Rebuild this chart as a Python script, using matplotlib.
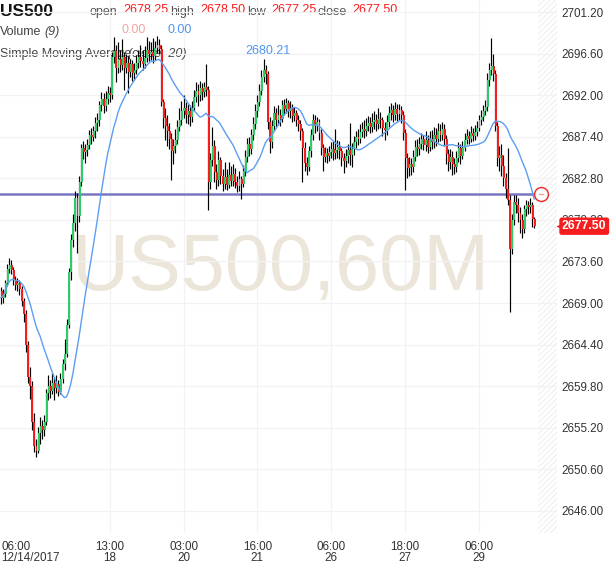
import numpy as np
import pandas as pd
import matplotlib
matplotlib.use("Agg")
import matplotlib.pyplot as plt
import matplotlib.transforms as mtransforms

plt.rcParams['font.family'] = ['Liberation Sans', 'DejaVu Sans']
plt.rcParams['hatch.linewidth'] = 0.8

# hourly US500 closes, one per bar (first bar opens at 2670.3)
first_open = 2670.3
closes = [
    2669.6, 2670.0, 2671.2, 2672.8, 2673.2, 2672.7, 2671.6, 2671.0, 2671.2, 2670.5,
    2669.2, 2667.8, 2664.3, 2660.8, 2659.8, 2655.8, 2653.2, 2652.6, 2654.6, 2655.4,
    2654.9, 2655.8, 2659.0, 2659.8, 2659.3, 2660.2, 2659.6, 2660.0, 2659.2, 2660.6,
    2662.2, 2663.4, 2666.6, 2672.4, 2676.0, 2677.8, 2680.6, 2678.6, 2682.4, 2686.2,
    2685.7, 2685.9, 2686.5, 2687.6, 2687.4, 2688.0, 2688.9, 2689.2, 2690.9, 2691.6,
    2690.8, 2691.6, 2692.2, 2692.0, 2696.2, 2696.9, 2695.0, 2696.0, 2695.3, 2696.2,
    2695.0, 2695.6, 2694.6, 2695.4, 2694.4, 2694.8, 2695.6, 2696.2, 2695.8, 2695.5,
    2696.1, 2697.0, 2696.5, 2696.8, 2696.3, 2697.2, 2697.6, 2697.1, 2691.2, 2689.5,
    2688.6, 2688.0, 2687.2, 2685.8, 2686.4, 2687.0, 2688.5, 2689.2, 2690.2, 2690.6,
    2689.8, 2690.3, 2689.6, 2690.6, 2691.8, 2692.5, 2692.0, 2692.8, 2692.3, 2692.9,
    2692.6, 2682.4, 2684.8, 2686.4, 2683.5, 2682.6, 2684.8, 2683.0, 2682.2, 2682.9,
    2682.1, 2683.2, 2682.5, 2683.3, 2682.4, 2681.9, 2682.7, 2682.2, 2683.6, 2685.2,
    2686.6, 2686.0, 2687.6, 2688.8, 2690.2, 2691.2, 2692.5, 2694.0, 2694.8, 2694.3,
    2689.0, 2686.8, 2688.6, 2690.0, 2689.3, 2689.8, 2689.4, 2690.9, 2690.5, 2691.1,
    2690.2, 2690.6, 2689.7, 2690.0, 2689.3, 2688.8, 2688.0, 2686.2, 2684.5, 2684.0,
    2685.8, 2687.6, 2689.2, 2688.6, 2689.0, 2687.8, 2686.2, 2685.2, 2685.6, 2685.3,
    2685.7, 2686.0, 2685.6, 2685.9, 2686.3, 2685.8, 2685.1, 2684.7, 2685.3, 2685.9,
    2685.4, 2686.0, 2686.8, 2687.4, 2687.2, 2687.9, 2688.3, 2688.0, 2688.6, 2688.9,
    2688.5, 2689.0, 2689.3, 2688.8, 2689.4, 2689.2, 2688.4, 2688.1, 2689.0, 2690.0,
    2690.4, 2689.8, 2690.5, 2689.9, 2690.4, 2689.8, 2687.8, 2685.0, 2683.9, 2684.4,
    2684.0, 2685.2, 2686.3, 2686.0, 2686.6, 2687.1, 2686.5, 2687.0, 2686.3, 2687.2,
    2686.8, 2687.6, 2687.2, 2688.0, 2687.6, 2688.2, 2687.2, 2685.5, 2684.6, 2685.2,
    2684.4, 2684.0, 2685.0, 2686.1, 2685.3, 2686.2, 2687.0, 2687.5, 2687.2, 2687.8,
    2687.5, 2687.9, 2688.4, 2689.2, 2689.6, 2690.2, 2690.7, 2693.7, 2694.8, 2695.2,
    2694.3, 2688.6, 2685.0, 2685.4, 2684.2, 2682.8, 2681.6, 2680.4, 2675.0, 2678.2,
    2680.2, 2679.9, 2679.0, 2678.2, 2677.2, 2679.4, 2679.8, 2679.6, 2679.9, 2678.25,
    2677.5,
]
highs = [
    2670.8, 2670.6, 2671.6, 2673.3, 2674.0, 2673.8, 2673.0, 2672.0, 2671.8, 2671.6,
    2670.9, 2669.5, 2668.2, 2664.8, 2661.9, 2660.4, 2656.8, 2654.0, 2655.3, 2656.4,
    2656.0, 2656.6, 2659.5, 2661.0, 2660.5, 2661.2, 2660.8, 2661.0, 2660.5, 2661.2,
    2662.8, 2665.0, 2667.2, 2672.9, 2676.6, 2678.9, 2681.4, 2681.2, 2683.0, 2686.6,
    2686.9, 2686.6, 2687.2, 2688.1, 2688.4, 2688.6, 2689.6, 2690.0, 2691.4, 2692.4,
    2692.2, 2692.5, 2693.0, 2692.9, 2696.8, 2698.4, 2697.6, 2697.9, 2697.0, 2698.2,
    2696.8, 2696.5, 2696.3, 2696.0, 2695.9, 2695.6, 2696.4, 2697.0, 2697.6, 2697.0,
    2697.4, 2698.4, 2698.0, 2697.9, 2698.3, 2698.0, 2698.6, 2698.2, 2697.6, 2691.6,
    2690.6, 2689.8, 2688.9, 2687.8, 2687.2, 2688.2, 2689.2, 2690.6, 2691.3, 2692.0,
    2691.2, 2691.0, 2690.9, 2691.4, 2692.6, 2693.5, 2693.2, 2693.6, 2693.4, 2693.5,
    2695.5, 2693.0, 2685.6, 2688.5, 2687.0, 2684.4, 2685.8, 2685.2, 2683.8, 2684.6,
    2683.8, 2684.6, 2684.2, 2684.4, 2683.9, 2683.0, 2683.6, 2683.1, 2684.3, 2685.9,
    2687.3, 2687.4, 2688.3, 2689.6, 2691.0, 2692.0, 2693.2, 2694.8, 2696.0, 2695.3,
    2694.7, 2689.6, 2689.3, 2690.8, 2690.6, 2690.9, 2690.5, 2691.5, 2691.6, 2691.7,
    2691.5, 2691.3, 2691.0, 2690.7, 2690.4, 2689.8, 2689.3, 2688.4, 2686.8, 2685.2,
    2686.4, 2688.2, 2689.9, 2689.8, 2689.6, 2689.4, 2688.2, 2686.6, 2686.3, 2686.2,
    2686.4, 2686.8, 2686.9, 2688.2, 2687.0, 2686.9, 2686.2, 2685.6, 2686.0, 2686.6,
    2688.9, 2686.7, 2687.5, 2688.0, 2688.2, 2688.8, 2689.0, 2689.2, 2689.5, 2689.7,
    2689.6, 2690.0, 2690.2, 2689.9, 2690.6, 2690.1, 2689.6, 2689.0, 2689.8, 2690.8,
    2691.1, 2690.9, 2691.2, 2691.0, 2691.0, 2690.8, 2690.2, 2688.2, 2685.6, 2685.2,
    2685.0, 2685.9, 2687.0, 2687.2, 2687.4, 2687.8, 2687.6, 2688.0, 2687.6, 2688.0,
    2688.1, 2688.5, 2688.4, 2688.9, 2688.8, 2689.0, 2688.8, 2687.6, 2686.0, 2686.0,
    2685.8, 2685.0, 2685.8, 2686.8, 2686.6, 2686.9, 2687.8, 2688.2, 2688.0, 2688.6,
    2688.4, 2688.7, 2689.1, 2689.8, 2690.4, 2690.9, 2691.5, 2694.4, 2695.6, 2698.3,
    2696.6, 2694.8, 2689.0, 2686.4, 2686.6, 2685.4, 2683.4, 2686.2, 2681.0, 2678.8,
    2680.9, 2681.0, 2680.6, 2679.6, 2678.8, 2679.9, 2680.4, 2680.3, 2680.6, 2680.2,
    2678.5,
]
lows = [
    2668.9, 2669.0, 2669.7, 2670.9, 2672.3, 2672.2, 2671.0, 2670.4, 2670.3, 2669.9,
    2668.7, 2666.9, 2663.6, 2660.1, 2658.4, 2655.0, 2652.5, 2652.0, 2652.4, 2653.4,
    2654.0, 2654.3, 2655.5, 2658.3, 2658.5, 2658.9, 2658.3, 2659.0, 2658.7, 2658.9,
    2660.2, 2661.6, 2663.0, 2666.2, 2671.5, 2675.2, 2677.0, 2674.5, 2678.0, 2682.0,
    2684.9, 2684.5, 2685.3, 2686.0, 2686.6, 2686.9, 2687.3, 2688.0, 2688.6, 2690.2,
    2690.0, 2690.3, 2691.0, 2691.2, 2691.6, 2695.6, 2693.5, 2694.5, 2694.6, 2694.8,
    2692.6, 2694.4, 2692.2, 2694.0, 2693.6, 2693.8, 2694.3, 2695.0, 2695.1, 2694.8,
    2695.0, 2695.7, 2695.8, 2695.9, 2695.6, 2695.9, 2696.7, 2696.5, 2690.8, 2688.4,
    2687.0, 2686.4, 2686.0, 2682.6, 2684.4, 2685.6, 2686.6, 2688.0, 2688.7, 2689.5,
    2688.9, 2688.8, 2688.6, 2689.0, 2690.2, 2691.2, 2690.8, 2691.4, 2691.5, 2691.8,
    2691.9, 2679.3, 2681.6, 2684.2, 2682.4, 2681.6, 2682.0, 2682.2, 2681.4, 2681.6,
    2681.5, 2681.7, 2681.9, 2682.0, 2681.7, 2681.3, 2681.4, 2680.5, 2681.8, 2683.0,
    2684.6, 2685.3, 2685.5, 2687.0, 2688.2, 2689.6, 2690.8, 2692.0, 2693.5, 2693.2,
    2688.3, 2685.6, 2686.2, 2688.0, 2688.5, 2688.7, 2688.6, 2689.0, 2689.8, 2690.0,
    2689.6, 2689.5, 2689.0, 2689.1, 2688.6, 2688.0, 2687.0, 2682.4, 2683.6, 2683.2,
    2683.6, 2685.2, 2687.0, 2687.8, 2688.0, 2687.0, 2685.4, 2683.6, 2684.6, 2684.5,
    2684.7, 2685.0, 2684.8, 2684.9, 2685.1, 2684.9, 2684.2, 2683.4, 2684.0, 2684.5,
    2684.3, 2684.1, 2685.4, 2686.2, 2686.5, 2686.7, 2687.4, 2687.3, 2687.5, 2688.0,
    2687.8, 2687.9, 2688.3, 2688.0, 2688.2, 2688.4, 2687.5, 2687.0, 2687.6, 2688.5,
    2689.3, 2689.0, 2689.2, 2689.1, 2689.3, 2688.9, 2687.0, 2681.5, 2682.8, 2683.0,
    2683.2, 2683.5, 2684.7, 2685.3, 2685.4, 2686.0, 2685.9, 2685.8, 2685.6, 2685.8,
    2686.0, 2686.2, 2686.4, 2686.8, 2686.9, 2687.0, 2686.4, 2684.4, 2683.6, 2683.8,
    2683.2, 2683.3, 2683.5, 2684.6, 2684.4, 2684.9, 2685.8, 2686.6, 2686.6, 2686.8,
    2686.9, 2687.0, 2687.5, 2688.0, 2688.7, 2689.1, 2689.8, 2690.3, 2693.0, 2694.2,
    2693.6, 2688.0, 2684.2, 2683.6, 2683.0, 2682.0, 2680.6, 2679.8, 2668.0, 2674.4,
    2677.6, 2679.0, 2678.0, 2676.8, 2676.2, 2676.8, 2678.6, 2678.8, 2679.0, 2677.4,
    2677.25,
]

alert_level = 2681.07
y_ticks = [2646.0, 2650.6, 2655.2, 2659.8, 2664.4, 2669.0, 2673.6, 2678.2,
           2682.8, 2687.4, 2692.0, 2696.6, 2701.2]
x_tick_bars = [0, 53, 89, 125, 161, 197, 233]
x_tick_labels = ["06:00\n12/14/2017", "13:00\n18", "03:00\n20", "16:00\n21",
                 "06:00\n26", "18:00\n27", "06:00\n29"]

GREEN = '#2dcc66'
RED = '#f51d1d'
TXT = '#333333'

closes = np.array(closes)
highs = np.array(highs)
lows = np.array(lows)
opens = np.r_[first_open, closes[:-1]]
idx = np.arange(len(closes))
sma = pd.Series(closes).rolling(20, min_periods=1).mean()

fig = plt.figure(figsize=(6.1, 5.68), dpi=100)
ax = fig.add_axes([0, 35 / 568, 557 / 610, 533 / 568])
ax.set_xlim(-0.49, 271.1)
ax.set_ylim(2643.55, 2702.53)
for s in ax.spines.values():
    s.set_visible(False)

# grid
ax.set_yticks(y_ticks)
ax.set_yticklabels(["%.2f" % v for v in y_ticks])
ax.yaxis.tick_right()
ax.grid(axis='y', color='#f2f2f2', lw=0.9, zorder=0)
for b in x_tick_bars[1:]:
    ax.axvline(b, color='#f2f2f2', lw=0.9, zorder=0)
ax.set_xticks(x_tick_bars)
ax.set_xticklabels(x_tick_labels, linespacing=0.88)
ax.tick_params(axis='y', length=0, pad=3, labelsize=8.4, labelcolor=TXT)
ax.tick_params(axis='x', length=0, pad=6, labelsize=8.4, labelcolor=TXT)
ax.get_xticklabels()[0].set_ha('left')

# empty future area
ax.axvspan(261.6, 271.1, facecolor='none', hatch='//////', edgecolor='#efefef', lw=0, zorder=0)

# watermark
ax.text(281 / 557, 1 - 269 / 533, "US500,60M", transform=ax.transAxes,
        fontsize=57, color='#ece5da', ha='center', va='center', zorder=0.5)

# header texts (below the candles)
def htext(x, y, s, **kw):
    kw.setdefault('fontsize', 9)
    kw.setdefault('color', '#555555')
    ax.text(x / 610, 1 - y / 568, s, transform=fig.transFigure, va='center',
            ha='left', zorder=1, **kw)

htext(0, 11, "US500", fontsize=12.5, fontweight='bold', color='#111111')
htext(90, 12, "open")
htext(123, 10, "2678.25", color=RED)
htext(170, 12, "high")
htext(200, 10, "2678.50", color=RED)
htext(247, 12, "low")
htext(271, 10, "2677.25", color=RED)
htext(318, 12, "close")
htext(352, 10, "2677.50", color=RED)
htext(0, 32, "Volume", color='#444444')
htext(44, 32, "(9)", color='#444444', style='italic')
htext(121, 30, "0.00", color='#f3a3a3')
htext(167, 30, "0.00", color='#4d94ef')
htext(0, 54, "Simple Moving Average", color='#444444')
htext(128, 54, "(close, 20)", color='#444444', style='italic')
htext(245, 51, "2680.21", color='#4d94ef')

# candles
ax.vlines(idx, lows, highs, color='black', lw=0.85, zorder=3)
body_bottom = np.minimum(opens, closes)
body_h = np.maximum(np.abs(closes - opens), 0.14)
colors = np.where(closes >= opens, GREEN, RED)
ax.bar(idx + 0.3, body_h, bottom=body_bottom, width=0.95, color=colors,
       lw=0, zorder=4)

# moving average
ax.plot(idx, sma, color='#5c9ef2', lw=1.0, zorder=5)

# alert line
ax.plot([-0.49, len(closes) - 0.5], [alert_level, alert_level], color='#7878c0',
        lw=1.8, zorder=2)
ax.plot([263.3], [alert_level], marker='o', ms=10, mfc='white', mec='#ee3333',
        mew=1.1, zorder=6, clip_on=False)
ax.plot([262.3, 264.3], [alert_level, alert_level], color='#f5a0a0', lw=1.0, zorder=7)

# last price tag
trans = mtransforms.blended_transform_factory(ax.transAxes, ax.transData)
ax.text(1.0 + 5 / 557, closes[-1], "%.2f" % closes[-1], transform=trans,
        ha='left', va='center', fontsize=8.8, fontweight='bold', color='white',
        bbox=dict(boxstyle='round,pad=0.22,rounding_size=0.2', fc='#f51d1d', ec='none'),
        zorder=10, clip_on=False)
ax.plot([1.0 + 2 / 557], [closes[-1]], transform=trans, marker='<', ms=5,
        color='#f51d1d', mec='none', zorder=10, clip_on=False)

fig.savefig("out.png", dpi=100, facecolor='white')
